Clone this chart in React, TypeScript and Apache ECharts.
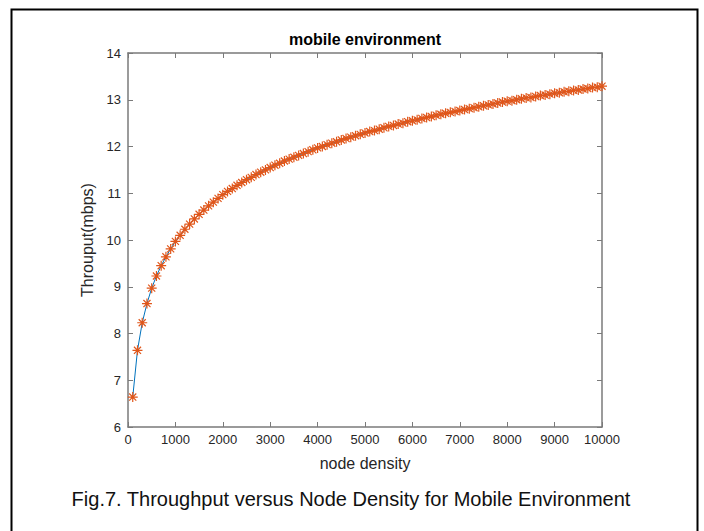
import React, { useEffect, useRef } from "react";
import * as echarts from "echarts";

const titleText = "mobile environment";
const captionText = "Fig.7. Throughput versus Node Density for Mobile Environment";
const xAxisName = "node density";
const yAxisName = "Throuput(mbps)";

const nodeDensity = [
  100, 200, 300, 400, 500, 600, 700, 800, 900, 1000,
  1100, 1200, 1300, 1400, 1500, 1600, 1700, 1800, 1900, 2000,
  2100, 2200, 2300, 2400, 2500, 2600, 2700, 2800, 2900, 3000,
  3100, 3200, 3300, 3400, 3500, 3600, 3700, 3800, 3900, 4000,
  4100, 4200, 4300, 4400, 4500, 4600, 4700, 4800, 4900, 5000,
  5100, 5200, 5300, 5400, 5500, 5600, 5700, 5800, 5900, 6000,
  6100, 6200, 6300, 6400, 6500, 6600, 6700, 6800, 6900, 7000,
  7100, 7200, 7300, 7400, 7500, 7600, 7700, 7800, 7900, 8000,
  8100, 8200, 8300, 8400, 8500, 8600, 8700, 8800, 8900, 9000,
  9100, 9200, 9300, 9400, 9500, 9600, 9700, 9800, 9900, 10000,
];

const throughput = [
  6.64, 7.64, 8.23, 8.64, 8.97, 9.23, 9.45, 9.64, 9.81, 9.97,
  10.10, 10.23, 10.34, 10.45, 10.55, 10.64, 10.73, 10.81, 10.89, 10.97,
  11.04, 11.10, 11.17, 11.23, 11.29, 11.34, 11.40, 11.45, 11.50, 11.55,
  11.60, 11.64, 11.69, 11.73, 11.77, 11.81, 11.85, 11.89, 11.93, 11.97,
  12.00, 12.04, 12.07, 12.10, 12.14, 12.17, 12.20, 12.23, 12.26, 12.29,
  12.32, 12.34, 12.37, 12.40, 12.43, 12.45, 12.48, 12.50, 12.53, 12.55,
  12.57, 12.60, 12.62, 12.64, 12.67, 12.69, 12.71, 12.73, 12.75, 12.77,
  12.79, 12.81, 12.83, 12.85, 12.87, 12.89, 12.91, 12.93, 12.95, 12.97,
  12.98, 13.00, 13.02, 13.04, 13.05, 13.07, 13.09, 13.10, 13.12, 13.14,
  13.15, 13.17, 13.18, 13.20, 13.21, 13.23, 13.24, 13.26, 13.27, 13.29,
];

const AXIS_COLOR = "#7a7a7a";
const LABEL_COLOR = "#262626";
const FONT = "Liberation Sans, Arial, sans-serif";
const STAR = "path://M0,-5L0,5M-5,0L5,0M-3.54,-3.54L3.54,3.54M-3.54,3.54L3.54,-3.54";

export default function App() {
  const ref = useRef<HTMLDivElement>(null);
  useEffect(() => {
    if (!ref.current) return;
    const chart = echarts.init(ref.current, null, { renderer: "svg" });
    const data = nodeDensity.map((x, i) => [x, throughput[i]]);
    const boxAxis = {
      axisLine: { show: true, onZero: false, lineStyle: { color: AXIS_COLOR, width: 1.5 } },
      axisTick: { show: true, inside: true, length: 5, lineStyle: { color: AXIS_COLOR, width: 1 } },
      splitLine: { show: false },
    };
    chart.setOption({
      animation: false,
      backgroundColor: "#ffffff",
      textStyle: { fontFamily: FONT },
      grid: { left: 128, top: 53, right: 102, bottom: 104, containLabel: false },
      xAxis: [
        {
          type: "value",
          min: 0,
          max: 10000,
          interval: 1000,
          position: "bottom",
          name: xAxisName,
          nameLocation: "middle",
          nameGap: 28,
          nameTextStyle: { fontSize: 16, color: LABEL_COLOR, fontFamily: FONT },
          axisLabel: {
            fontSize: 13,
            color: LABEL_COLOR,
            margin: 6,
            fontFamily: FONT,
            formatter: (v: number) => String(v),
          },
          ...boxAxis,
        },
        {
          type: "value",
          min: 0,
          max: 10000,
          interval: 1000,
          position: "top",
          axisLabel: { show: false },
          ...boxAxis,
        },
      ],
      yAxis: [
        {
          type: "value",
          min: 6,
          max: 14,
          interval: 1,
          position: "left",
          name: yAxisName,
          nameLocation: "middle",
          nameGap: 29,
          nameTextStyle: { fontSize: 16, color: LABEL_COLOR, fontFamily: FONT },
          axisLabel: { fontSize: 13, color: LABEL_COLOR, margin: 7, fontFamily: FONT },
          ...boxAxis,
        },
        {
          type: "value",
          min: 6,
          max: 14,
          interval: 1,
          position: "right",
          axisLabel: { show: false },
          ...boxAxis,
        },
      ],
      series: [
        {
          type: "line",
          data,
          xAxisIndex: 0,
          yAxisIndex: 0,
          lineStyle: { color: "#0072BD", width: 1 },
          symbol: STAR,
          symbolSize: 10,
          showSymbol: true,
          showAllSymbol: true,
          itemStyle: { color: "rgba(0,0,0,0)", borderColor: "#E0561A", borderWidth: 1.2 },
          emphasis: { disabled: true },
          z: 3,
        },
      ],
      graphic: [
        {
          type: "rect",
          shape: { x: 11.5, y: 9.5, width: 686, height: 600 },
          style: { fill: "none", stroke: "#000000", lineWidth: 2 },
          silent: true,
        },
        {
          type: "text",
          x: 365,
          y: 39,
          style: {
            text: titleText,
            fontSize: 16,
            fontWeight: "bold",
            fontFamily: FONT,
            fill: "#000000",
            align: "center",
            verticalAlign: "middle",
          },
        },
        {
          type: "text",
          x: 351,
          y: 499,
          style: {
            text: captionText,
            fontSize: 20,
            fontFamily: FONT,
            fill: "#111111",
            align: "center",
            verticalAlign: "middle",
          },
        },
      ],
    });
    return () => chart.dispose();
  }, []);
  return (
    <div
      ref={ref}
      style={{ position: "fixed", left: 0, top: 0, width: 704, height: 531, background: "#fff" }}
    />
  );
}
